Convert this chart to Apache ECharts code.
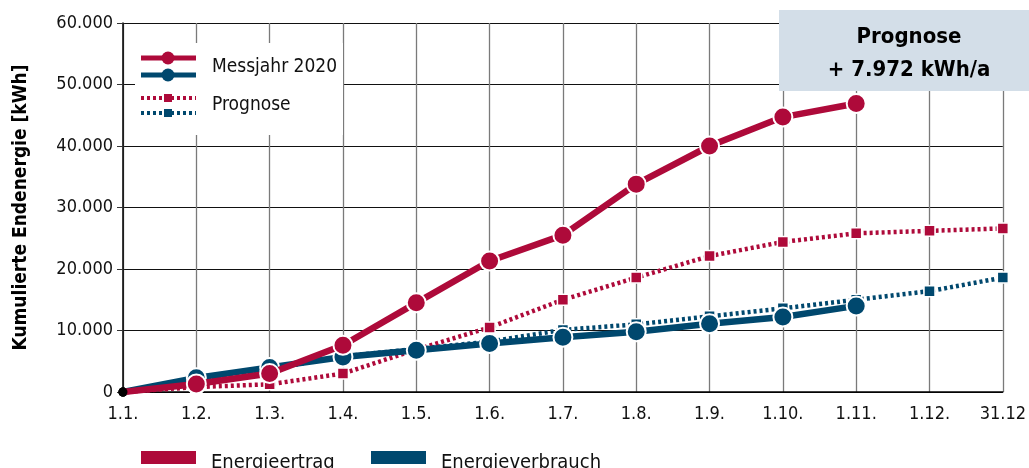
<!DOCTYPE html>
<html><head><meta charset="utf-8">
<script src="https://cdn.jsdelivr.net/npm/echarts@6/dist/echarts.min.js"></script>
<style>html,body{margin:0;padding:0;background:#fff}#c{width:1029px;height:468px}</style>
</head><body><div id="c"></div>
<script>
const categories = ['1.1.','1.2.','1.3.','1.4.','1.5.','1.6.','1.7.','1.8.','1.9.','1.10.','1.11.','1.12.','31.12'];
const messErtrag = [0,1300,3000,7600,14500,21300,25500,33800,40000,44700,46900,null,null];
const messVerbrauch = [0,2300,4000,5700,6800,7900,8900,9800,11100,12200,14000,null,null];
const progErtrag = [0,800,1250,3000,6900,10500,15000,18600,22100,24400,25800,26200,26600];
const progVerbrauch = [0,1900,3700,5800,7000,8200,10100,11000,12300,13600,15000,16400,18600];
const yTicks = [0,10000,20000,30000,40000,50000,60000];
const boxLines = ['Prognose','+ 7.972 kWh/a'];
const legendTop = ['Messjahr 2020','Prognose'];
const legendBottom = ['Energieertrag','Energieverbrauch'];

const RED = '#AE0A3A', BLUE = '#00486E';
const FONT = '"Liberation Sans Narrow","DejaVu Sans Condensed","Roboto Condensed",sans-serif';

function withStart(arr){
  return arr.map((v,i)=> i===0 ? {value:v, symbol:'circle', symbolSize:9, itemStyle:{color:'#000', borderWidth:0}} : v);
}
function fmt(v){ return String(v).replace(/\B(?=(\d{3})+(?!\d))/g,'.'); }

const chart = echarts.init(document.getElementById('c'), null, {renderer:'canvas'});
const option = {
  animation:false,
  grid:{left:123, right:20, top:23, bottom:76, containLabel:false},
  xAxis:{type:'category', data:categories, boundaryGap:false,
    axisLine:{show:true, lineStyle:{color:'#000', width:1.5}},
    axisTick:{show:false},
    axisLabel:{color:'#111', fontFamily:FONT, fontSize:18, margin:13},
    splitLine:{show:true, lineStyle:{color:'#7a7a7a', width:1.3}}
  },
  yAxis:{type:'value', min:0, max:60000, interval:10000,
    name:'Kumulierte Endenergie [kWh]', nameLocation:'middle', nameGap:92,
    nameTextStyle:{fontFamily:FONT, fontSize:19, fontWeight:'bold', color:'#000'},
    axisLine:{show:true, lineStyle:{color:'#000', width:1.5}},
    axisTick:{show:true, length:6, lineStyle:{color:'#333'}},
    axisLabel:{color:'#111', fontFamily:FONT, fontSize:18, margin:10, formatter:(v)=> yTicks.includes(v)? fmt(v):''},
    splitLine:{show:true, lineStyle:{color:'#111', width:1.2}}
  },
  series:[
    {name:'Prognose Verbrauch', type:'line', data:withStart(progVerbrauch), symbol:'rect', symbolSize:11,
      lineStyle:{color:BLUE, width:4.5, type:[3,3]}, itemStyle:{color:BLUE, borderColor:'#fff', borderWidth:1.5}, z:2},
    {name:'Prognose Ertrag', type:'line', data:withStart(progErtrag), symbol:'rect', symbolSize:11,
      lineStyle:{color:RED, width:4.5, type:[3,3]}, itemStyle:{color:RED, borderColor:'#fff', borderWidth:1.5}, z:3},
    {name:'Messjahr Verbrauch', type:'line', data:withStart(messVerbrauch), symbol:'circle', symbolSize:19,
      lineStyle:{color:BLUE, width:6.5}, itemStyle:{color:BLUE, borderColor:'#fff', borderWidth:2}, z:4},
    {name:'Messjahr Ertrag', type:'line', data:withStart(messErtrag), symbol:'circle', symbolSize:19,
      lineStyle:{color:RED, width:6.5}, itemStyle:{color:RED, borderColor:'#fff', borderWidth:2}, z:5}
  ],
  graphic:[
    {type:'rect', shape:{x:779, y:10, width:260, height:81}, style:{fill:'#D3DEE8'}, z:10},
    {type:'text', x:909, y:37, style:{text:boxLines[0], fontFamily:FONT, fontSize:22, fontWeight:'bold', fill:'#000', align:'center', verticalAlign:'middle'}, z:11},
    {type:'text', x:909, y:70, style:{text:boxLines[1], fontFamily:FONT, fontSize:22, fontWeight:'bold', fill:'#000', align:'center', verticalAlign:'middle'}, z:11},
    // top legend
    {type:'rect', shape:{x:135, y:43, width:208, height:92}, style:{fill:'#fff'}, z:10},
    {type:'line', shape:{x1:141,y1:58,x2:196,y2:58}, style:{stroke:RED, lineWidth:5}, z:11},
    {type:'circle', shape:{cx:168,cy:58,r:6.5}, style:{fill:RED}, z:12},
    {type:'line', shape:{x1:141,y1:75,x2:196,y2:75}, style:{stroke:BLUE, lineWidth:5}, z:11},
    {type:'circle', shape:{cx:168,cy:75,r:6.5}, style:{fill:BLUE}, z:12},
    {type:'text', x:212, y:67, style:{text:legendTop[0], fontFamily:FONT, fontSize:19, fill:'#111', verticalAlign:'middle'}, z:12},
    {type:'line', shape:{x1:141,y1:98,x2:196,y2:98}, style:{stroke:RED, lineWidth:4, lineDash:[3,3]}, z:11},
    {type:'rect', shape:{x:164,y:94,width:8,height:8}, style:{fill:RED}, z:12},
    {type:'line', shape:{x1:141,y1:113,x2:196,y2:113}, style:{stroke:BLUE, lineWidth:4, lineDash:[3,3]}, z:11},
    {type:'rect', shape:{x:164,y:109,width:8,height:8}, style:{fill:BLUE}, z:12},
    {type:'text', x:212, y:105, style:{text:legendTop[1], fontFamily:FONT, fontSize:19, fill:'#111', verticalAlign:'middle'}, z:12},
    // bottom legend
    {type:'rect', shape:{x:141,y:451,width:55,height:13}, style:{fill:RED}, z:11},
    {type:'text', x:211, y:463, style:{text:legendBottom[0], fontFamily:FONT, fontSize:20, fill:'#111', verticalAlign:'middle'}, z:11},
    {type:'rect', shape:{x:371,y:451,width:55,height:13}, style:{fill:BLUE}, z:11},
    {type:'text', x:441, y:463, style:{text:legendBottom[1], fontFamily:FONT, fontSize:20, fill:'#111', verticalAlign:'middle'}, z:11}
  ]
};
chart.setOption(option);
</script></body></html>
